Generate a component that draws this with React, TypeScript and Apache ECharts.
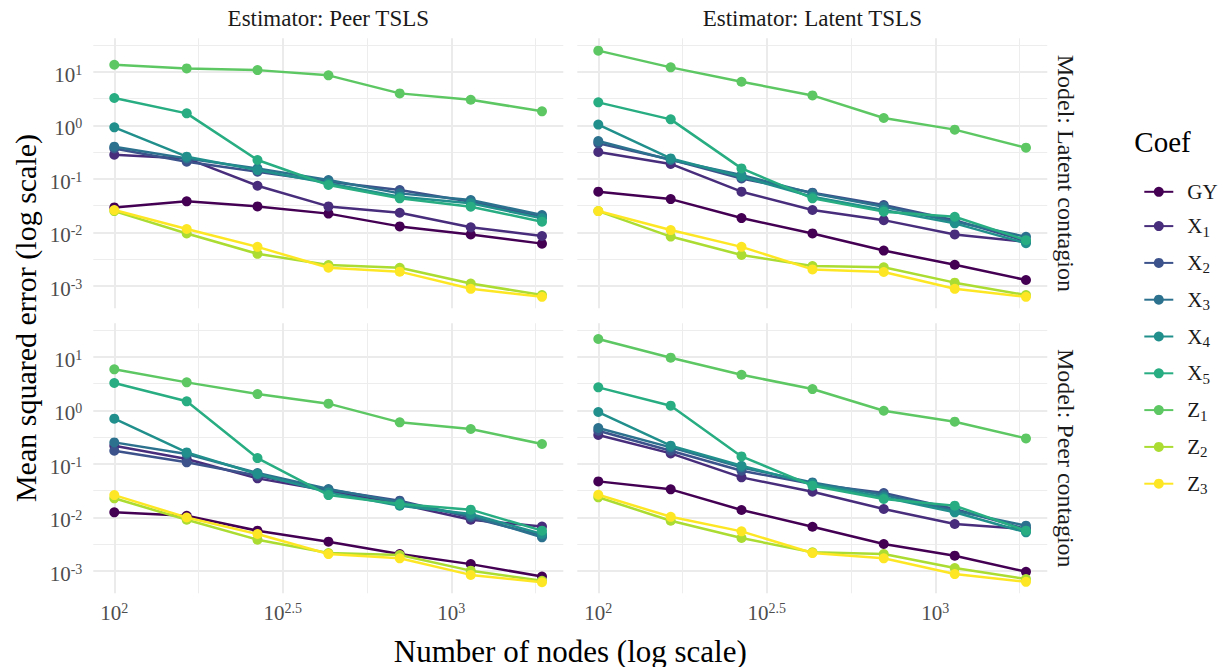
import React, { useEffect, useRef } from 'react';
import * as echarts from 'echarts';

// ---- data ----
const nodes = [100, 164, 266, 432, 703, 1142, 1858];
const coefs = ['GY', 'X1', 'X2', 'X3', 'X4', 'X5', 'Z1', 'Z2', 'Z3'];
const coefColors = ['#440154', '#472D7B', '#3B528B', '#2C728E', '#21908C', '#27AD81', '#5DC863', '#AADC32', '#FDE725'];
const estimators = ['Estimator: Peer TSLS', 'Estimator: Latent TSLS'];
const models = ['Model: Latent contagion', 'Model: Peer contagion'];
const xMajorTicks = [2, 2.5, 3];
const xMinorTicks = [2.25, 2.75, 3.25];
const yMajorTicks = [-3, -2, -1, 0, 1];
const yMinorTicks = [-2.5, -1.5, -0.5, 0.5, 1.5];

// Peer TSLS / Latent contagion
const peerTslsLatentModel: Record<string, number[]> = {
  GY: [0.0294, 0.0381, 0.0307, 0.0225, 0.013, 0.0092, 0.0062],
  X1: [0.282, 0.241, 0.0746, 0.0307, 0.0234, 0.0125, 0.0086],
  X2: [0.37, 0.209, 0.136, 0.0887, 0.062, 0.0376, 0.0197],
  X3: [0.399, 0.241, 0.157, 0.095, 0.0537, 0.0403, 0.0212],
  X4: [0.915, 0.26, 0.146, 0.0826, 0.0466, 0.035, 0.0184],
  X5: [3.23, 1.67, 0.225, 0.0769, 0.0434, 0.0303, 0.0159],
  Z1: [13.5, 11.5, 10.7, 8.55, 3.94, 3.0, 1.82],
  Z2: [0.0251, 0.0096, 0.004, 0.00247, 0.0022, 0.00112, 0.00068],
  Z3: [0.0262, 0.0116, 0.0054, 0.0022, 0.00186, 0.00089, 0.00063],
};
// Latent TSLS / Latent contagion
const latentTslsLatentModel: Record<string, number[]> = {
  GY: [0.0577, 0.042, 0.0186, 0.0096, 0.0046, 0.0025, 0.0013],
  X1: [0.317, 0.19, 0.0577, 0.0263, 0.017, 0.0092, 0.0067],
  X2: [0.46, 0.23, 0.102, 0.0553, 0.0325, 0.017, 0.0069],
  X3: [0.508, 0.225, 0.118, 0.0537, 0.0303, 0.0159, 0.0083],
  X4: [1.03, 0.241, 0.11, 0.0466, 0.0263, 0.0148, 0.0063],
  X5: [2.68, 1.29, 0.157, 0.0434, 0.0245, 0.0197, 0.0072],
  Z1: [24.7, 12.05, 6.5, 3.61, 1.37, 0.83, 0.382],
  Z2: [0.0251, 0.0084, 0.0038, 0.00237, 0.00224, 0.00116, 0.00068],
  Z3: [0.0251, 0.0111, 0.0054, 0.00205, 0.00183, 0.00089, 0.00063],
};
// Peer TSLS / Peer contagion
const peerTslsPeerModel: Record<string, number[]> = {
  GY: [0.0125, 0.0108, 0.00568, 0.00354, 0.00208, 0.00135, 0.00079],
  X1: [0.219, 0.123, 0.0537, 0.0316, 0.0178, 0.0091, 0.0068],
  X2: [0.176, 0.107, 0.0603, 0.033, 0.0206, 0.01, 0.0046],
  X3: [0.252, 0.153, 0.0676, 0.034, 0.0192, 0.0108, 0.00427],
  X4: [0.697, 0.164, 0.0647, 0.0294, 0.0166, 0.0116, 0.00492],
  X5: [3.23, 1.47, 0.1285, 0.0262, 0.0178, 0.014, 0.00568],
  Z1: [5.81, 3.32, 2.01, 1.33, 0.596, 0.447, 0.235],
  Z2: [0.0228, 0.0091, 0.00385, 0.00217, 0.002, 0.00102, 0.00066],
  Z3: [0.0262, 0.01, 0.00492, 0.00208, 0.00173, 0.00085, 0.00062],
};
// Latent TSLS / Peer contagion
const latentTslsPeerModel: Record<string, number[]> = {
  GY: [0.0472, 0.0335, 0.0138, 0.00673, 0.0032, 0.00194, 0.00097],
  X1: [0.346, 0.157, 0.0561, 0.0303, 0.0144, 0.00755, 0.0061],
  X2: [0.416, 0.176, 0.0746, 0.042, 0.0286, 0.0144, 0.0061],
  X3: [0.467, 0.203, 0.086, 0.0452, 0.0262, 0.0134, 0.00703],
  X4: [0.929, 0.219, 0.0925, 0.042, 0.0238, 0.0125, 0.00528],
  X5: [2.68, 1.22, 0.138, 0.0392, 0.0221, 0.0166, 0.00568],
  Z1: [21.4, 9.58, 4.61, 2.49, 0.98, 0.613, 0.299],
  Z2: [0.0238, 0.0087, 0.00414, 0.00224, 0.00208, 0.00114, 0.00071],
  Z3: [0.0266, 0.0103, 0.00551, 0.00217, 0.00173, 0.00088, 0.00063],
};

// panels: row = model, col = estimator
const panels = [
  { row: 0, col: 0, data: peerTslsLatentModel },
  { row: 0, col: 1, data: latentTslsLatentModel },
  { row: 1, col: 0, data: peerTslsPeerModel },
  { row: 1, col: 1, data: latentTslsPeerModel },
];

const FONT = '"Liberation Serif", "Times New Roman", serif';
const PANEL_W = 470;
const PANEL_H = 270;
const LEFTS = [93.3, 577.3];
const TOPS = [38.3, 323.3];
const X_MIN = 1.9377;
const X_MAX = 3.3323;
const Y_MIN = -3.4142;
const Y_MAX = 1.6231;

const supRich = {
  b: { fontSize: 21, fontFamily: FONT, color: '#4D4D4D', lineHeight: 22, verticalAlign: 'bottom' },
  s: { fontSize: 14, fontFamily: FONT, color: '#4D4D4D', lineHeight: 16, verticalAlign: 'top' },
};

function expLabel(v: number) {
  const r = Math.round(v * 100) / 100;
  return `{b|10}{s|${r}}`;
}

export default function App() {
  const ref = useRef<HTMLDivElement>(null);
  useEffect(() => {
    if (!ref.current) return;
    const chart = echarts.init(ref.current, undefined, { renderer: 'svg' });

    const grids: any[] = [];
    const xAxes: any[] = [];
    const yAxes: any[] = [];
    const series: any[] = [];

    panels.forEach((p, g) => {
      grids.push({ left: LEFTS[p.col], top: TOPS[p.row], width: PANEL_W, height: PANEL_H, containLabel: false });
      xAxes.push({
        type: 'value', gridIndex: g, position: 'bottom', min: X_MIN, max: X_MAX,
        axisLine: { show: false },
        axisTick: { show: false, customValues: xMajorTicks },
        axisLabel: {
          show: p.row === 1, customValues: xMajorTicks, margin: 8,
          formatter: expLabel, rich: supRich,
        },
        splitLine: { show: true, lineStyle: { color: '#EBEBEB', width: 2 } },
      });
      xAxes.push({
        type: 'value', gridIndex: g, position: 'top', min: X_MIN, max: X_MAX,
        axisLine: { show: false },
        axisTick: { show: false, customValues: xMinorTicks },
        axisLabel: { show: false, customValues: xMinorTicks },
        splitLine: { show: true, lineStyle: { color: '#EDEDED', width: 1 } },
      });
      yAxes.push({
        type: 'value', gridIndex: g, position: 'left', min: Y_MIN, max: Y_MAX,
        axisLine: { show: false },
        axisTick: { show: false, customValues: yMajorTicks },
        axisLabel: {
          show: p.col === 0, customValues: yMajorTicks, margin: 11,
          padding: [5, 0, 0, 0],
          formatter: expLabel, rich: supRich,
        },
        splitLine: { show: true, lineStyle: { color: '#EBEBEB', width: 2 } },
      });
      yAxes.push({
        type: 'value', gridIndex: g, position: 'right', min: Y_MIN, max: Y_MAX,
        axisLine: { show: false },
        axisTick: { show: false, customValues: yMinorTicks },
        axisLabel: { show: false, customValues: yMinorTicks },
        splitLine: { show: true, lineStyle: { color: '#EDEDED', width: 1 } },
      });

      coefs.forEach((c, ci) => {
        series.push({
          type: 'line',
          name: c,
          xAxisIndex: 2 * g,
          yAxisIndex: 2 * g,
          data: nodes.map((n, i) => [Math.log10(n), Math.log10(p.data[c][i])]),
          symbol: 'circle',
          symbolSize: 10,
          showSymbol: true,
          color: coefColors[ci],
          lineStyle: { width: 2.5, color: coefColors[ci] },
          itemStyle: { color: coefColors[ci] },
          emphasis: { disabled: true },
          z: 2 + ci * 0.01,
        });
      });
    });

    const graphics: any[] = [];
    estimators.forEach((t, i) => {
      graphics.push({
        type: 'text', x: LEFTS[i] + PANEL_W / 2, y: 18,
        style: { text: t, fontFamily: FONT, fontSize: 23, fill: '#1A1A1A', align: 'center', verticalAlign: 'middle' },
      });
    });
    models.forEach((t, i) => {
      graphics.push({
        type: 'text', x: 1066, y: TOPS[i] + PANEL_H / 2, rotation: -Math.PI / 2,
        style: { text: t, fontFamily: FONT, fontSize: 24, fill: '#1A1A1A', align: 'center', verticalAlign: 'middle' },
      });
    });
    graphics.push({
      type: 'text', x: 570.3, y: 651,
      style: { text: 'Number of nodes (log scale)', fontFamily: FONT, fontSize: 31, fill: '#000', align: 'center', verticalAlign: 'middle' },
    });
    graphics.push({
      type: 'text', x: 25, y: 318, rotation: Math.PI / 2,
      style: { text: 'Mean squared error (log scale)', fontFamily: FONT, fontSize: 30, fill: '#000', align: 'center', verticalAlign: 'middle' },
    });
    graphics.push({
      type: 'text', x: 1134.3, y: 141.7,
      style: { text: 'Coef', fontFamily: FONT, fontSize: 29, fill: '#000', align: 'left', verticalAlign: 'middle' },
    });

    chart.setOption({
      animation: false,
      backgroundColor: '#FFFFFF',
      grid: grids,
      xAxis: xAxes,
      yAxis: yAxes,
      series,
      legend: {
        data: coefs,
        orient: 'vertical',
        left: 1138.3,
        top: 176.3,
        itemWidth: 29,
        itemHeight: 12.5,
        itemGap: 13.3,
        selectedMode: false,
        formatter: (name: string) => (name === 'GY' ? `{b|${name}}` : `{b|${name[0]}}{s|${name.slice(1)}}`),
        textStyle: {
          fontFamily: FONT,
          fontSize: 21,
          color: '#1A1A1A',
          rich: {
            b: { fontFamily: FONT, fontSize: 21, color: '#1A1A1A', lineHeight: 24, padding: [0, 0, 0, 9] },
            s: { fontFamily: FONT, fontSize: 15, color: '#1A1A1A', lineHeight: 26, verticalAlign: 'bottom' },
          },
        },
      },
      graphic: graphics,
    });
    return () => chart.dispose();
  }, []);
  return <div ref={ref} style={{ position: 'absolute', left: 0, top: 0, width: 1224, height: 667 }} />;
}
